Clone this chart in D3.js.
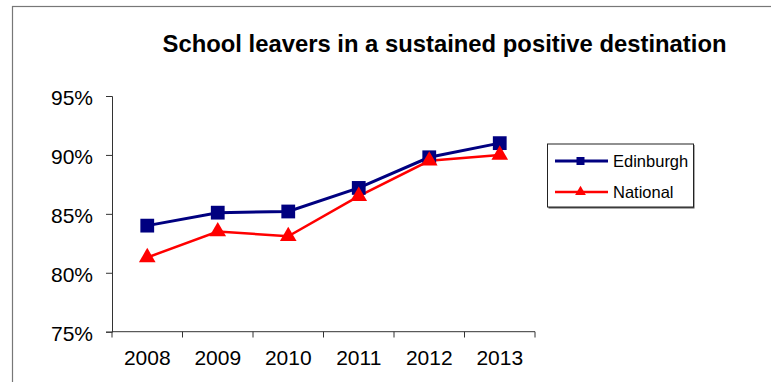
<!DOCTYPE html>
<html>
<head>
<meta charset="utf-8">
<script src="https://cdn.jsdelivr.net/npm/d3@7"></script>
<style>
  body { margin: 0; background: #fff; }
  svg { display: block; font-family: Arial, "Liberation Sans", sans-serif; }
</style>
</head>
<body>
<svg class="chart" width="771" height="382"></svg>
<script>
var years = ["2008", "2009", "2010", "2011", "2012", "2013"];
var edinburgh = [0.840, 0.851, 0.852, 0.872, 0.898, 0.910];
var national = [0.813, 0.835, 0.831, 0.865, 0.895, 0.900];
var yTicks = [0.75, 0.80, 0.85, 0.90, 0.95];
var seriesNames = ["Edinburgh", "National"];

var svg = d3.select(".chart");

// outer frame (cut off at right and bottom like the original)
svg.append("rect")
    .attr("x", 12.5).attr("y", 6.5)
    .attr("width", 800).attr("height", 400)
    .attr("fill", "none").attr("stroke", "#777").attr("stroke-width", 1.2);

svg.append("text")
    .attr("x", 444.5).attr("y", 51.5)
    .attr("text-anchor", "middle")
    .attr("font-size", 24).attr("font-weight", "bold")
    .attr("textLength", 564).attr("lengthAdjust", "spacingAndGlyphs")
    .text("School leavers in a sustained positive destination");

var x = d3.scaleBand().domain(years).range([112, 535]);
var y = d3.scaleLinear().domain([0.75, 0.95]).range([331.7, 96]);

// y axis
var yAxis = svg.append("g")
    .attr("transform", "translate(112,0)")
    .call(d3.axisLeft(y).tickValues(yTicks).tickSize(6).tickPadding(13).tickFormat(d3.format(".0%")));
yAxis.selectAll("text").attr("font-size", 21).attr("fill", "#000").attr("dy", "0.42em");

// x axis
var xAxis = svg.append("g")
    .attr("transform", "translate(0,331.7)")
    .call(d3.axisBottom(x).tickSize(0).tickPadding(18));
xAxis.select(".domain").remove();
xAxis.selectAll("text").attr("font-size", 21).attr("fill", "#000");

svg.selectAll(".xtick")
    .data([years[0]].concat(years))
    .enter().append("line")
    .attr("class", "xtick")
    .attr("x1", function(d, i) { return i === 0 ? x(d) : x(d) + x.bandwidth(); })
    .attr("x2", function(d, i) { return i === 0 ? x(d) : x(d) + x.bandwidth(); })
    .attr("y1", 331.7).attr("y2", 337.5)
    .attr("stroke", "#333");

svg.append("line")
    .attr("x1", 112).attr("x2", 535)
    .attr("y1", y(0.75)).attr("y2", y(0.75))
    .attr("stroke", "#333");
yAxis.selectAll("line, path").attr("stroke", "#333");

var cx = function(d, i) { return x(years[i]) + x.bandwidth() / 2; };
var line = d3.line().x(cx).y(function(d) { return y(d); });

svg.append("path").datum(edinburgh)
    .attr("d", line).attr("fill", "none")
    .attr("stroke", "#000080").attr("stroke-width", 3);
svg.append("path").datum(national)
    .attr("d", line).attr("fill", "none")
    .attr("stroke", "#ff0000").attr("stroke-width", 2.5);

var sq = d3.symbol().type(d3.symbolSquare).size(190);
var tri = d3.symbol().type(d3.symbolTriangle).size(120);

svg.selectAll(".edin").data(edinburgh).enter().append("path")
    .attr("class", "edin")
    .attr("d", sq)
    .attr("transform", function(d, i) { return "translate(" + cx(d, i) + "," + y(d) + ")"; })
    .attr("fill", "#000080");

svg.selectAll(".nat").data(national).enter().append("path")
    .attr("class", "nat")
    .attr("d", tri)
    .attr("transform", function(d, i) { return "translate(" + cx(d, i) + "," + y(d) + ")"; })
    .attr("fill", "#ff0000");

// legend
var legend = svg.append("g");
legend.append("rect")
    .attr("x", 548.5).attr("y", 145)
    .attr("width", 146).attr("height", 63.5)
    .attr("fill", "#555");
legend.append("rect")
    .attr("x", 547.5).attr("y", 144)
    .attr("width", 146).attr("height", 63)
    .attr("fill", "#fff").attr("stroke", "#222");

var entries = legend.selectAll(".entry")
    .data(seriesNames)
    .enter().append("g")
    .attr("transform", function(d, i) { return "translate(0," + (161 + i * 31) + ")"; });

entries.append("line")
    .attr("x1", 555).attr("x2", 608)
    .attr("stroke", function(d, i) { return i === 0 ? "#000080" : "#ff0000"; })
    .attr("stroke-width", function(d, i) { return i === 0 ? 3 : 2.5; });

entries.append("path")
    .attr("transform", "translate(580.5,0)")
    .attr("d", function(d, i) {
        return i === 0 ? d3.symbol().type(d3.symbolSquare).size(64)()
                       : d3.symbol().type(d3.symbolTriangle).size(50)();
    })
    .attr("fill", function(d, i) { return i === 0 ? "#000080" : "#ff0000"; });

entries.append("text")
    .attr("x", 613).attr("dy", "0.36em")
    .attr("font-size", 16.5)
    .text(function(d) { return d; });
</script>
</body>
</html>
